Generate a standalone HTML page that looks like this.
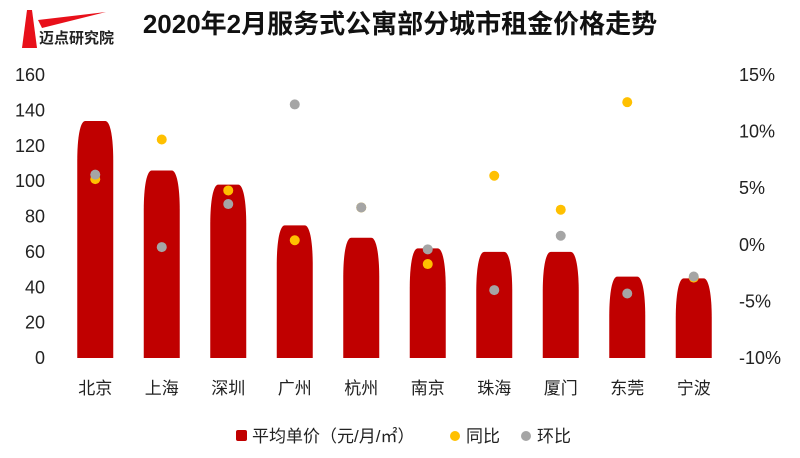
<!DOCTYPE html>
<html><head><meta charset="utf-8"><style>
body{margin:0;background:#fff;}
svg{display:block;font-family:"Liberation Sans","Noto Sans CJK SC",sans-serif;}
</style></head><body>
<svg width="800" height="458" viewBox="0 0 800 458">
<g>
<polygon points="38,20 106,12 42,28" fill="#e8101a"/>
<polygon points="27,10 32,10 37,48 22,48" fill="#e8101a"/>
<text x="39" y="43" font-size="15" font-weight="bold" fill="#222">迈点研究院</text>
</g>
<text x="400" y="33" font-size="26" font-weight="bold" text-anchor="middle" fill="#111">2020年2月服务式公寓部分城市租金价格走势</text>
<g id="plot"></g>
<g>
<rect x="236" y="430" width="11" height="11" rx="2" fill="#c00000"/>
<text x="252" y="442" font-size="17" fill="#222">平均单价（元/月/㎡）</text>
<circle cx="455" cy="436" r="5" fill="#ffc000"/>
<text x="466" y="442" font-size="17" fill="#222">同比</text>
<circle cx="526" cy="436" r="5" fill="#a5a5a5"/>
<text x="537" y="442" font-size="17" fill="#222">环比</text>
</g>
</svg>
<script>
const categories=["北京","上海","深圳","广州","杭州","南京","珠海","厦门","东莞","宁波"];
const priceValues=[134,106,98,75,68,62,60,60,46,45];
const yoyValues=[5.8,9.3,4.8,0.4,3.3,-1.7,6.1,3.1,12.6,-2.9];
const momValues=[6.2,-0.2,3.6,12.4,3.3,-0.4,-4.0,0.8,-4.3,-2.8];
const leftTicks=[0,20,40,60,80,100,120,140,160];
const rightTicks=[-10,-5,0,5,10,15];
const NS="http://www.w3.org/2000/svg";
const g=document.getElementById('plot');
const x0=62,x1=727,yB=358,yT=75;
const yL=v=>yB-(v/160)*(yB-yT);
const yR=v=>yB-((v+10)/25)*(yB-yT);
const step=(x1-x0)/categories.length;
const xC=i=>x0+step*(i+0.5);
function mk(t,a){const e=document.createElementNS(NS,t);for(const k in a)e.setAttribute(k,a[k]);g.appendChild(e);return e;}
leftTicks.forEach(v=>{const t=mk('text',{x:45,y:yL(v)+6,'font-size':18,'text-anchor':'end',fill:'#222'});

t.textContent=v;});
rightTicks.forEach(v=>{const t=mk('text',{x:739,y:yR(v)+6,'font-size':18,fill:'#222'});

t.textContent=v+'%';});
categories.forEach((c,i)=>{
 const cx=xC(i),top=yL(priceValues[i]);const h=yB-top;const c1=Math.min(40,h);
 const d=`M${cx-18},${yB} L${cx-18},${top+c1} C${cx-18},${top+c1*0.4} ${cx-15},${top} ${cx-10},${top} L${cx+10},${top} C${cx+15},${top} ${cx+18},${top+c1*0.4} ${cx+18},${top+c1} L${cx+18},${yB} Z`;
 const b=mk('path',{d:d,fill:'#c00000'});
 
 
 const t=mk('text',{x:cx,y:394,'font-size':17,'text-anchor':'middle',fill:'#222'});
 
 t.textContent=c;
});
categories.forEach((c,i)=>{
 const p=mk('circle',{cx:xC(i),cy:yR(yoyValues[i]),r:5,fill:'#ffc000'});
 
 
});
categories.forEach((c,i)=>{
 const p=mk('circle',{cx:xC(i),cy:yR(momValues[i]),r:5,fill:'#a5a5a5'});
 
 
});
</script>
</body></html>
